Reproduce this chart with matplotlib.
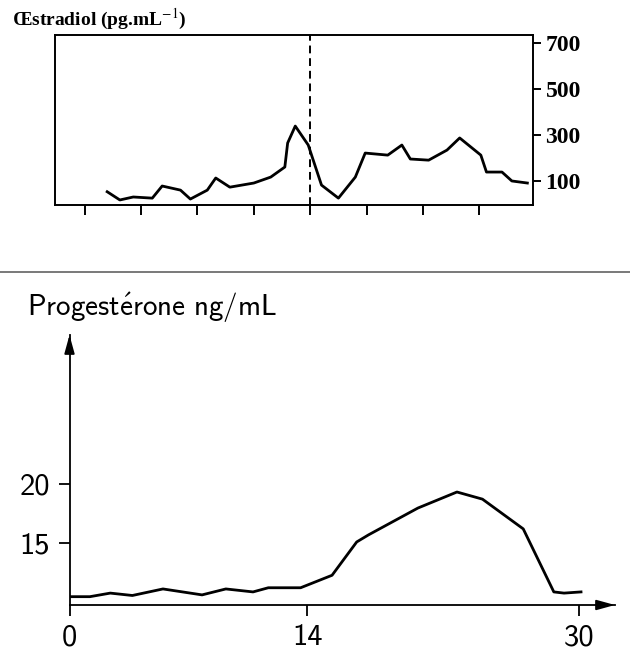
import numpy as np
import matplotlib as mpl
mpl.use('Agg')
import matplotlib.pyplot as plt
from matplotlib.lines import Line2D

plt.rcParams['mathtext.fontset'] = 'stix'

# oestradiol, days relative to the LH peak (dashed line at 0)
e2_days = [-14.4, -13.5, -12.55, -11.2, -10.5, -9.2, -8.5, -7.3, -6.7, -5.7,
           -4.0, -2.8, -1.8, -1.6, -1.06, -0.14, 0.8, 2.0, 3.2, 3.9,
           5.5, 6.5, 7.1, 8.4, 9.7, 10.6, 12.1, 12.5, 13.6, 14.3, 15.4]
e2_vals = [52, 16, 29, 24, 77, 59, 20, 59, 112, 72,
           90, 116, 160, 265, 339, 256, 81, 24, 116, 221,
           212, 256, 195, 190, 234, 287, 212, 138, 138, 99, 90]
e2_ticks = [100, 300, 500, 700]
e2_xticks = [-16, -12, -8, -4, 0, 4, 8, 12]

# progesterone, cycle days
p4_days = [0, 1.2, 2.4, 3.7, 5.5, 7.8, 9.2, 10.8, 11.7, 13.6,
           15.45, 16.9, 17.6, 20.5, 22.8, 24.3, 26.7, 28.5, 29.1, 30.1]
p4_vals = [10.5, 10.5, 10.8, 10.6, 11.15, 10.65, 11.15, 10.9, 11.25, 11.25,
           12.3, 15.1, 15.7, 17.95, 19.3, 18.7, 16.2, 10.9, 10.8, 10.9]
p4_yticks = [15, 20]
p4_xticks = [0, 14, 30]

fig = plt.figure(figsize=(6.3, 6.5), dpi=100)

# ---- top panel: oestradiol
serif = 'Liberation Serif'
ax1 = fig.add_axes([55/630, 1-205/650, 478/630, 170/650])
ax1.plot(e2_days, e2_vals, color='k', lw=2.0)
ax1.axvline(0, color='k', lw=1.4, ls=(0, (4, 2.5)))
ax1.set_xlim(-18.1, 15.8)
ax1.set_ylim(-6, 737)
for s in ax1.spines.values():
    s.set_linewidth(1.4)
ax1.yaxis.tick_right()
ax1.set_yticks(e2_ticks)
ax1.set_yticklabels([str(t) for t in e2_ticks], family=serif,
                    fontsize=17, weight='bold')
ax1.set_xticks(e2_xticks)
ax1.set_xticklabels([])
ax1.tick_params(axis='x', direction='out', length=7, width=1.4)
ax1.tick_params(axis='y', direction='out', length=6, width=1.4, pad=3)
fig.text(12/630, 1-19/650, 'Œstradiol (pg.mL$^{-1}$)', family=serif,
         fontsize=14, weight='bold', va='center', ha='left')

# separator
fig.add_artist(Line2D([0, 1], [1-272/650, 1-272/650], color='#555555', lw=1.1))

# ---- bottom panel: progesterone
sans = ['cmss10', 'DejaVu Sans']
ax2 = fig.add_axes([69.5/630, 1-605/650, 545.5/630, 270/650])
ax2.plot(p4_days, p4_vals, color='k', lw=2.0)
ax2.set_xlim(0, 32.1)
ax2.set_ylim(9.8, 32.5)
ax2.spines['top'].set_visible(False)
ax2.spines['right'].set_visible(False)
ax2.spines['left'].set_linewidth(1.3)
ax2.spines['bottom'].set_linewidth(1.3)
head = '-|>,head_length=0.8,head_width=0.22'
ax2.annotate('', xy=(1, 0), xytext=(0.97, 0), xycoords='axes fraction',
             arrowprops=dict(arrowstyle=head, color='k', lw=1.3,
                             mutation_scale=14, shrinkA=0, shrinkB=0))
ax2.annotate('', xy=(0, 1), xytext=(0, 0.95), xycoords='axes fraction',
             arrowprops=dict(arrowstyle=head, color='k', lw=1.3,
                             mutation_scale=14, shrinkA=0, shrinkB=0))
ax2.set_xticks(p4_xticks)
ax2.set_xticklabels([str(t) for t in p4_xticks], family=sans, fontsize=22)
ax2.set_yticks(p4_yticks)
ax2.set_yticklabels([str(t) for t in p4_yticks], family=sans, fontsize=22)
ax2.tick_params(direction='out', length=8, width=1.3, pad=6)
ax2.text(-0.077, 1.1, r'$\mathsf{Progest\acute{e}rone\ ng/mL}$',
         transform=ax2.transAxes, math_fontfamily='cm', fontsize=21,
         va='center', ha='left')

plt.savefig('out.png', dpi=100)
plt.close()
